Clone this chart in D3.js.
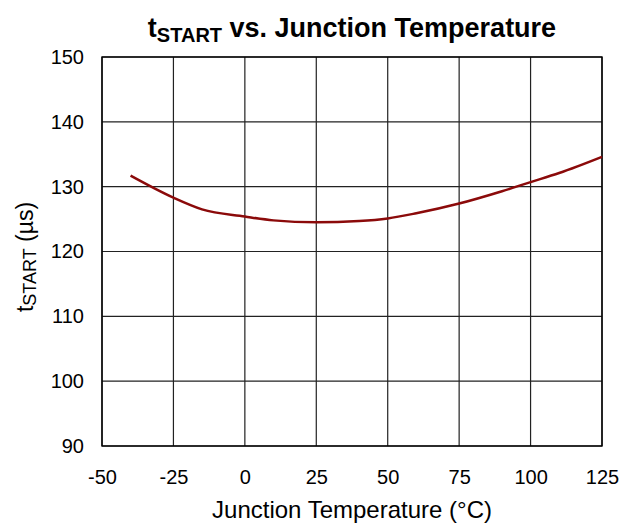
<!DOCTYPE html>
<html><head><meta charset="utf-8">
<script src="https://cdn.jsdelivr.net/npm/d3@7"></script>
<style>body{margin:0;background:#fff}svg{display:block;font-family:"Liberation Sans",Arial,sans-serif}</style>
</head><body>
<script>
const temps = [-40, -25, -15, 0, 10, 25, 40, 50, 60, 75, 90, 100, 110, 125];
const tstart = [131.7, 128.3, 126.5, 125.4, 124.8, 124.5, 124.7, 125.1, 125.9, 127.4, 129.3, 130.7, 132.1, 134.6];
const xTicks = [-50, -25, 0, 25, 50, 75, 100, 125];
const yTicks = [90, 100, 110, 120, 130, 140, 150];

const W = 634, H = 525;
const m = {l: 102, r: 32, t: 57, b: 79};
const FONT = "Liberation Sans, Arial, sans-serif";
const svg = d3.select("body").append("svg").attr("width", W).attr("height", H);
const x = d3.scaleLinear().domain([-50, 125]).range([m.l, W - m.r]);
const y = d3.scaleLinear().domain([90, 150]).range([H - m.b, m.t]);

const g = svg.append("g");
g.selectAll(".vg").data(xTicks).join("line")
  .attr("x1", d => x(d)).attr("x2", d => x(d)).attr("y1", y(90)).attr("y2", y(150))
  .attr("stroke", "#222").attr("stroke-width", 1.2);
g.selectAll(".hg").data(yTicks).join("line")
  .attr("x1", x(-50)).attr("x2", x(125)).attr("y1", d => y(d)).attr("y2", d => y(d))
  .attr("stroke", "#222").attr("stroke-width", 1.2);
g.append("rect").attr("x", x(-50)).attr("y", y(150)).attr("width", x(125) - x(-50)).attr("height", y(90) - y(150))
  .attr("fill", "none").attr("stroke", "#000").attr("stroke-width", 1.4);

const xAxis = svg.append("g").attr("transform", `translate(0,${y(90)})`)
  .call(d3.axisBottom(x).tickValues(xTicks).tickFormat(d => String(d)).tickSize(0).tickPadding(24));
xAxis.select(".domain").remove();
xAxis.selectAll("text").attr("font-size", 20).attr("fill", "#000").attr("font-family", FONT);

const yAxis = svg.append("g").attr("transform", `translate(${x(-50)},0)`)
  .call(d3.axisLeft(y).tickValues(yTicks).tickFormat(d => String(d)).tickSize(0).tickPadding(18));
yAxis.select(".domain").remove();
yAxis.selectAll("text").attr("font-size", 20).attr("fill", "#000").attr("font-family", FONT);

const data = temps.map((t, i) => [t, tstart[i]]);
svg.append("path").datum(data)
  .attr("d", d3.line().x(d => x(d[0])).y(d => y(d[1])).curve(d3.curveMonotoneX))
  .attr("fill", "none").attr("stroke", "#8b0a0a").attr("stroke-width", 2.5);

// title
const title = svg.append("text").attr("x", 352).attr("y", 37).attr("text-anchor", "middle")
  .attr("font-weight", "bold").attr("font-size", 27);
title.append("tspan").text("t");
title.append("tspan").attr("font-size", 20).attr("dy", 5).text("START");
title.append("tspan").attr("dy", -5).text(" vs. Junction Temperature");

svg.append("text").attr("x", 352).attr("y", 518).attr("text-anchor", "middle").attr("font-size", 24)
  .text("Junction Temperature (°C)");

const yl = svg.append("text").attr("transform", `translate(33,257) rotate(-90)`)
  .attr("text-anchor", "middle").attr("font-size", 23);
yl.append("tspan").text("t");
yl.append("tspan").attr("font-size", 18).attr("dy", 3).text("START");
yl.append("tspan").attr("dy", -3).text(" (µs)");
</script>
</body></html>
